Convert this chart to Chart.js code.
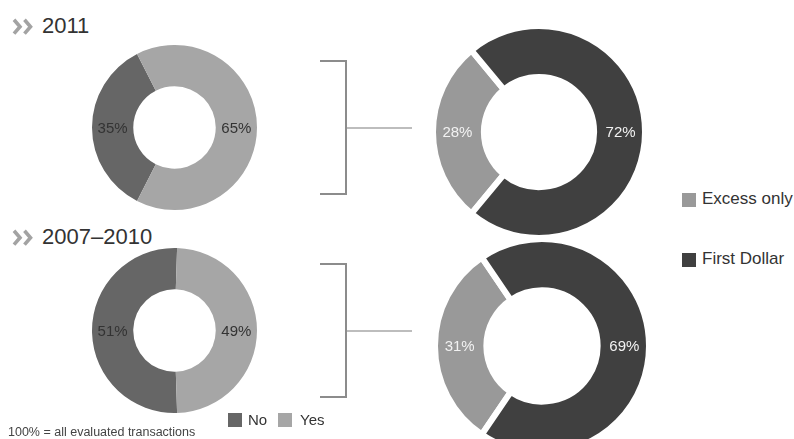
<!DOCTYPE html>
<html>
<head>
<meta charset="utf-8">
<script src="https://cdn.jsdelivr.net/npm/chart.js@4"></script>
<style>
  body { margin: 0; background: #fff; }
  #page { position: relative; width: 794px; height: 439px; overflow: hidden; background: #fff;
          font-family: "Liberation Sans", Arial, sans-serif; color: #333; }
  .abs { position: absolute; }
  canvas { display: block; }
  .title { font-size: 22px; line-height: 22px; color: #333; white-space: nowrap; }
  .line { position: absolute; background: #8c8c8c; }
  .stem { position: absolute; background: #bdbdbd; }
  .key { position: absolute; white-space: nowrap; }
  .sw { position: absolute; }
</style>
</head>
<body>
<div id="page">
  <svg class="abs" style="left:0; top:0;" width="40" height="260">
    <g fill="none" stroke="#a3a3a3" stroke-width="3.6" stroke-linejoin="miter">
      <polyline points="14,19.8 20,26.7 14,33.6"/>
      <polyline points="24.5,19.8 30.5,26.7 24.5,33.6"/>
      <polyline points="14,230.8 20,237.7 14,244.6"/>
      <polyline points="24.5,230.8 30.5,237.7 24.5,244.6"/>
    </g>
  </svg>
  <div class="abs title" id="t0" style="left:42px; top:14.5px;"></div>
  <div class="abs title" id="t1" style="left:42px; top:225.5px;"></div>

  <canvas id="c0" class="abs" width="165" height="165" style="left:92px; top:45px;"></canvas>
  <canvas id="c1" class="abs" width="218" height="218" style="left:430px; top:23px;"></canvas>
  <canvas id="c2" class="abs" width="165" height="165" style="left:92px; top:248px;"></canvas>
  <canvas id="c3" class="abs" width="220" height="220" style="left:432px; top:236px;"></canvas>

  <!-- bracket joining the 2011 pair -->
  <div class="line" style="left:320px; top:60px; width:27px; height:2px;"></div>
  <div class="line" style="left:345px; top:60px; width:2px; height:135px;"></div>
  <div class="line" style="left:320px; top:193px; width:27px; height:2px;"></div>
  <div class="stem" style="left:347px; top:127px; width:65px; height:1.5px;"></div>

  <!-- bracket joining the 2007–2010 pair -->
  <div class="line" style="left:320px; top:263px; width:27px; height:2px;"></div>
  <div class="line" style="left:345px; top:263px; width:2px; height:135px;"></div>
  <div class="line" style="left:320px; top:396px; width:27px; height:2px;"></div>
  <div class="stem" style="left:347px; top:330px; width:65px; height:1.5px;"></div>

  <div id="legendType"></div>
  <div id="legendYesNo"></div>

  <div class="abs" id="note" style="left:8px; top:425px; font-size:12.5px; color:#444; white-space:nowrap;"></div>
</div>

<script>
// Panel headings
const groups = ['2011', '2007\u20132010'];

// Left pair of rings: share of transactions (No / Yes)
const yesNoLabels = ['No', 'Yes'];
const yesNo2011 = [35, 65];
const yesNo2007to2010 = [51, 49];
const yesNoColors = ['#666666', '#a6a6a6'];

// Right pair of rings: coverage type
const typeLabels = ['Excess only', 'First Dollar'];
const type2011 = [28, 72];
const type2007to2010 = [31, 69];
const typeColors = ['#999999', '#404040'];

const footnote = '100% = all evaluated transactions';

// Percentage labels placed inside each slice
const sliceLabels = {
  id: 'sliceLabels',
  afterDatasetsDraw(chart, args, opts) {
    const ctx = chart.ctx;
    const meta = chart.getDatasetMeta(0);
    const values = chart.data.datasets[0].data;
    ctx.save();
    ctx.font = opts.font;
    ctx.fillStyle = opts.color;
    ctx.textAlign = 'center';
    ctx.textBaseline = 'middle';
    meta.data.forEach((arc, i) => {
      const p = arc.getProps(['x', 'y', 'startAngle', 'endAngle', 'innerRadius', 'outerRadius'], true);
      const a = (p.startAngle + p.endAngle) / 2;
      const r = p.innerRadius + opts.pos * (p.outerRadius - p.innerRadius);
      ctx.fillText(values[i] + '%', p.x + Math.cos(a) * r, p.y + Math.sin(a) * r + 1);
    });
    ctx.restore();
  }
};

function donut(id, labels, values, colors, cfg) {
  const total = values.reduce((s, v) => s + v, 0);
  return new Chart(document.getElementById(id), {
    type: 'doughnut',
    data: {
      labels: labels,
      datasets: [{
        data: values,
        backgroundColor: colors,
        borderWidth: cfg.border,
        borderColor: '#ffffff',
        borderJoinStyle: 'miter',
        hoverOffset: 0
      }]
    },
    options: {
      responsive: false,
      animation: false,
      events: [],
      cutout: cfg.cutout,
      // first slice is centred on the left side of the ring
      rotation: 270 - (values[0] / total) * 180,
      layout: { padding: 0 },
      plugins: {
        legend: { display: false },
        tooltip: { enabled: false },
        sliceLabels: { font: '15px "Liberation Sans", Arial, sans-serif', color: cfg.textColor, pos: cfg.pos }
      }
    },
    plugins: [sliceLabels]
  });
}

const leftCfg = { border: 0, cutout: '50%', textColor: '#333333', pos: 0.5 };
const rightCfg = { border: 6, cutout: '52%', textColor: '#f2f2f2', pos: 0.52 };

donut('c0', yesNoLabels, yesNo2011, yesNoColors, leftCfg);
donut('c1', typeLabels, type2011, typeColors, rightCfg);
donut('c2', yesNoLabels, yesNo2007to2010, yesNoColors, leftCfg);
donut('c3', typeLabels, type2007to2010, typeColors, rightCfg);

// Headings
document.getElementById('t0').textContent = groups[0];
document.getElementById('t1').textContent = groups[1];

// Legends
function legend(containerId, labels, colors, items) {
  const box = document.getElementById(containerId);
  labels.forEach((lab, i) => {
    const it = items[i];
    const sw = document.createElement('div');
    sw.className = 'sw';
    sw.style.cssText = `left:${it.sx}px; top:${it.sy}px; width:${it.size}px; height:${it.size}px; background:${colors[i]};`;
    box.appendChild(sw);
    const tx = document.createElement('div');
    tx.className = 'key';
    tx.style.cssText = `left:${it.tx}px; top:${it.ty}px; font-size:${it.font}px; color:#333; line-height:1;`;
    tx.textContent = lab;
    box.appendChild(tx);
  });
}

legend('legendType', typeLabels, typeColors, [
  { sx: 682, sy: 193, size: 14, tx: 702, ty: 190, font: 17 },
  { sx: 682, sy: 253, size: 14, tx: 702, ty: 250, font: 17 }
]);
legend('legendYesNo', yesNoLabels, yesNoColors, [
  { sx: 228, sy: 413, size: 14, tx: 248, ty: 412, font: 15 },
  { sx: 278, sy: 413, size: 14, tx: 300, ty: 412, font: 15 }
]);

document.getElementById('note').textContent = footnote;
</script>
</body>
</html>
